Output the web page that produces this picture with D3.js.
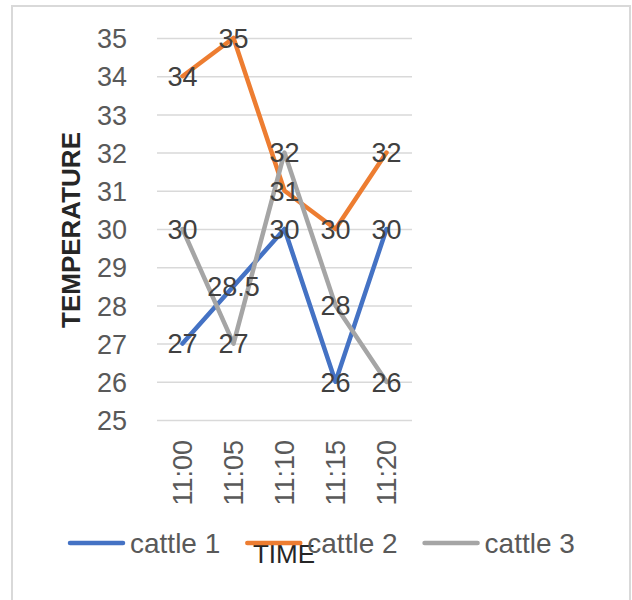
<!DOCTYPE html>
<html>
<head>
<meta charset="utf-8">
<script src="https://cdn.jsdelivr.net/npm/d3@7"></script>
<style>
  html, body { margin: 0; padding: 0; background: #fff; }
  svg { display: block; font-family: "Liberation Sans", Arial, sans-serif; }
</style>
</head>
<body>
<svg id="chart" width="632" height="600"></svg>
<script>
const categories = ["11:00", "11:05", "11:10", "11:15", "11:20"];
const cattle1 = [27, 28.5, 30, 26, 30];
const cattle2 = [34, 35, 31, 30, 32];
const cattle3 = [30, 27, 32, 28, 26];
const seriesNames = ["cattle 1", "cattle 2", "cattle 3"];
const seriesColors = ["#4472C4", "#ED7D31", "#A5A5A5"];
const yTicks = [25, 26, 27, 28, 29, 30, 31, 32, 33, 34, 35];
const yTitle = "TEMPERATURE";
const xTitle = "TIME";

const series = [cattle1, cattle2, cattle3].map((v, i) => ({ name: seriesNames[i], color: seriesColors[i], values: v }));

const svg = d3.select("#chart");

// outer frame
svg.append("rect").attr("x", 12).attr("y", 6).attr("width", 618).attr("height", 610)
  .attr("fill", "#fff").attr("stroke", "#d9d9d9").attr("stroke-width", 2);

const plot = { left: 157, right: 412, top: 38, bottom: 420 };

const x = d3.scaleBand().domain(categories).range([plot.left, plot.right]);
const y = d3.scaleLinear().domain([25, 35]).range([plot.bottom, plot.top]);

// gridlines
const yAxisGrid = d3.axisLeft(y).tickValues(yTicks).tickSize(-(plot.right - plot.left)).tickFormat("");
const grid = svg.append("g").attr("transform", `translate(${plot.left},0)`).call(yAxisGrid);
grid.select(".domain").remove();
grid.selectAll(".tick line").attr("stroke", "#d9d9d9").attr("stroke-width", 1.5);

// y tick labels
const yAxis = d3.axisLeft(y).tickValues(yTicks).tickSize(0).tickPadding(0).tickFormat(d3.format("d"));
const ya = svg.append("g").attr("transform", `translate(127,0)`).call(yAxis);
ya.select(".domain").remove();
ya.selectAll(".tick text").attr("fill", "#595959").attr("font-size", 27)
  .attr("font-family", "Liberation Sans, Arial, sans-serif").attr("dy", "0.36em");

// x tick labels
const xAxis = d3.axisBottom(x).tickSize(0).tickPadding(0);
const xa = svg.append("g").attr("transform", `translate(0,440)`).call(xAxis);
xa.select(".domain").remove();
xa.selectAll(".tick text").attr("fill", "#595959").attr("font-size", 27)
  .attr("font-family", "Liberation Sans, Arial, sans-serif")
  .attr("transform", "rotate(-90)").attr("text-anchor", "end")
  .attr("x", 0).attr("y", 0).attr("dy", "0.36em");

// axis titles
svg.append("text").attr("transform", "translate(80,230) rotate(-90)")
  .attr("text-anchor", "middle").attr("font-size", 26).attr("font-weight", "bold")
  .attr("fill", "#262626").text(yTitle);
svg.append("text").attr("x", 284).attr("y", 563)
  .attr("text-anchor", "middle").attr("font-size", 26)
  .attr("fill", "#262626").text(xTitle);

// lines
const line = d3.line().x((d, i) => x(categories[i]) + x.bandwidth() / 2).y(d => y(d));
svg.append("g").selectAll("path").data(series).join("path")
  .attr("d", d => line(d.values)).attr("fill", "none")
  .attr("stroke", d => d.color).attr("stroke-width", 4.5)
  .attr("stroke-linejoin", "round").attr("stroke-linecap", "round");

// data labels
series.forEach(s => {
  svg.append("g").selectAll("text").data(s.values).join("text")
    .attr("x", (d, i) => x(categories[i]) + x.bandwidth() / 2)
    .attr("y", d => y(d)).attr("dy", "0.36em")
    .attr("text-anchor", "middle").attr("font-size", 27).attr("fill", "#404040")
    .text(d => d);
});

// legend
const legend = svg.append("g");
let lx = 70;
const ly = 543;
series.forEach(s => {
  legend.append("line").attr("x1", lx).attr("x2", lx + 53).attr("y1", ly).attr("y2", ly)
    .attr("stroke", s.color).attr("stroke-width", 4.5).attr("stroke-linecap", "round");
  const t = legend.append("text").attr("x", lx + 60).attr("y", ly).attr("dy", "0.36em")
    .attr("font-size", 28).attr("fill", "#595959").text(s.name);
  const w = t.node().getComputedTextLength();
  lx = lx + 60 + w + 27;
});
</script>
</body>
</html>
